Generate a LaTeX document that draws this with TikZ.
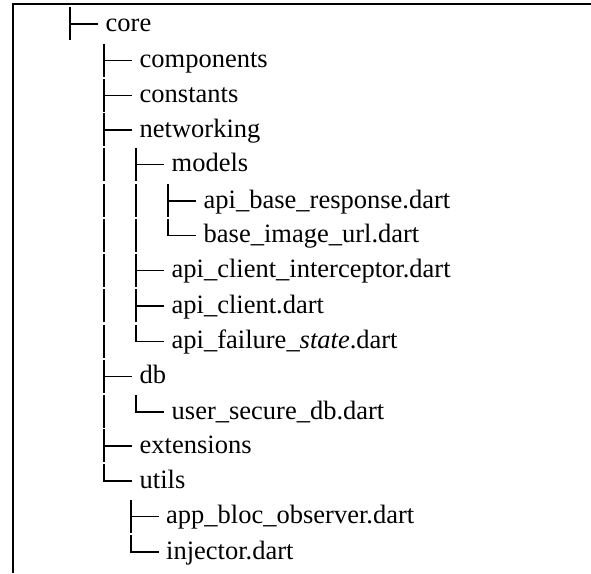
\documentclass[tikz,border=0pt]{standalone}
\usepackage{fontspec}
\setmainfont{Liberation Serif}
\tikzset{
  lbl/.style={anchor=base west,inner sep=0pt,font=\fontsize{26.5}{30}\selectfont},
  vbar/.style={line width=2.4pt},
  hbar/.style={line width=1.6pt},
  elbow/.style={line width=1.8pt},
  frameline/.style={line width=2pt}
}
% tee glyph at column x=#1, row y=#2
\newcommand\treeTee[2]{%
  \draw[vbar] (#1,#2-17) -- (#1,#2+16);
  \draw[hbar] (#1,#2) -- (#1+28,#2);}
% elbow glyph
\newcommand\treeElbow[2]{%
  \draw[elbow,line join=miter] (#1,#2-17) -- (#1,#2) -- (#1+28,#2);}
% continuation bar
\newcommand\treeBar[2]{%
  \draw[vbar] (#1,#2-17) -- (#1,#2+16);}
\begin{document}
\begin{tikzpicture}[x=1pt,y=-1pt]
\useasboundingbox (0,0) rectangle (591,573);
\coordinate (fa) at (13,573);
\coordinate (fb) at (13,4);
\coordinate (fc) at (591,4);
\draw[frameline] (fa) -- (fb) -- (fc);

% row 0: core
\treeTee{70}{24}
\node[lbl] (core) at (105.5,31) {core};
% row 1
\treeTee{104}{60.5}
\node[lbl] (components) at (139.5,67.5) {components};
% row 2
\treeTee{104}{95.5}
\node[lbl] (constants) at (139.5,102.5) {constants};
% row 3
\treeTee{104}{130}
\node[lbl] (networking) at (139.5,137) {networking};
% row 4
\treeBar{104}{164.5}
\treeTee{136}{164.5}
\node[lbl] (models) at (171.5,171.5) {models};
% row 5
\treeBar{104}{201}
\treeBar{136}{201}
\treeTee{168}{201}
\node[lbl] (apibase) at (203.5,208) {api\_base\_response.dart};
% row 6
\treeBar{104}{235.5}
\treeBar{136}{235.5}
\treeElbow{168}{235.5}
\node[lbl] (baseimg) at (203.5,242.5) {base\_image\_url.dart};
% row 7
\treeBar{104}{270.5}
\treeTee{136}{270.5}
\node[lbl] (interceptor) at (171.5,277.5) {api\_client\_interceptor.dart};
% row 8
\treeBar{104}{306}
\treeTee{136}{306}
\node[lbl] (apiclient) at (171.5,313) {api\_client.dart};
% row 9
\treeBar{104}{341.5}
\treeElbow{136}{341.5}
\node[lbl] (failure) at (171.5,348.5) {api\_failure\_\textit{state}.dart};
% row 10
\treeTee{104}{376.5}
\node[lbl] (db) at (139.5,383.5) {db};
% row 11
\treeBar{104}{412}
\treeElbow{136}{412}
\node[lbl] (usersecure) at (171.5,419) {user\_secure\_db.dart};
% row 12
\treeTee{104}{446}
\node[lbl] (extensions) at (139.5,453) {extensions};
% row 13
\treeElbow{104}{481}
\node[lbl] (utils) at (139.5,488) {utils};
% row 14
\treeTee{131}{516.5}
\node[lbl] (appbloc) at (166,523.5) {app\_bloc\_observer.dart};
% row 15
\treeElbow{131}{552}
\node[lbl] (injector) at (166,559) {injector.dart};
\end{tikzpicture}
\end{document}
